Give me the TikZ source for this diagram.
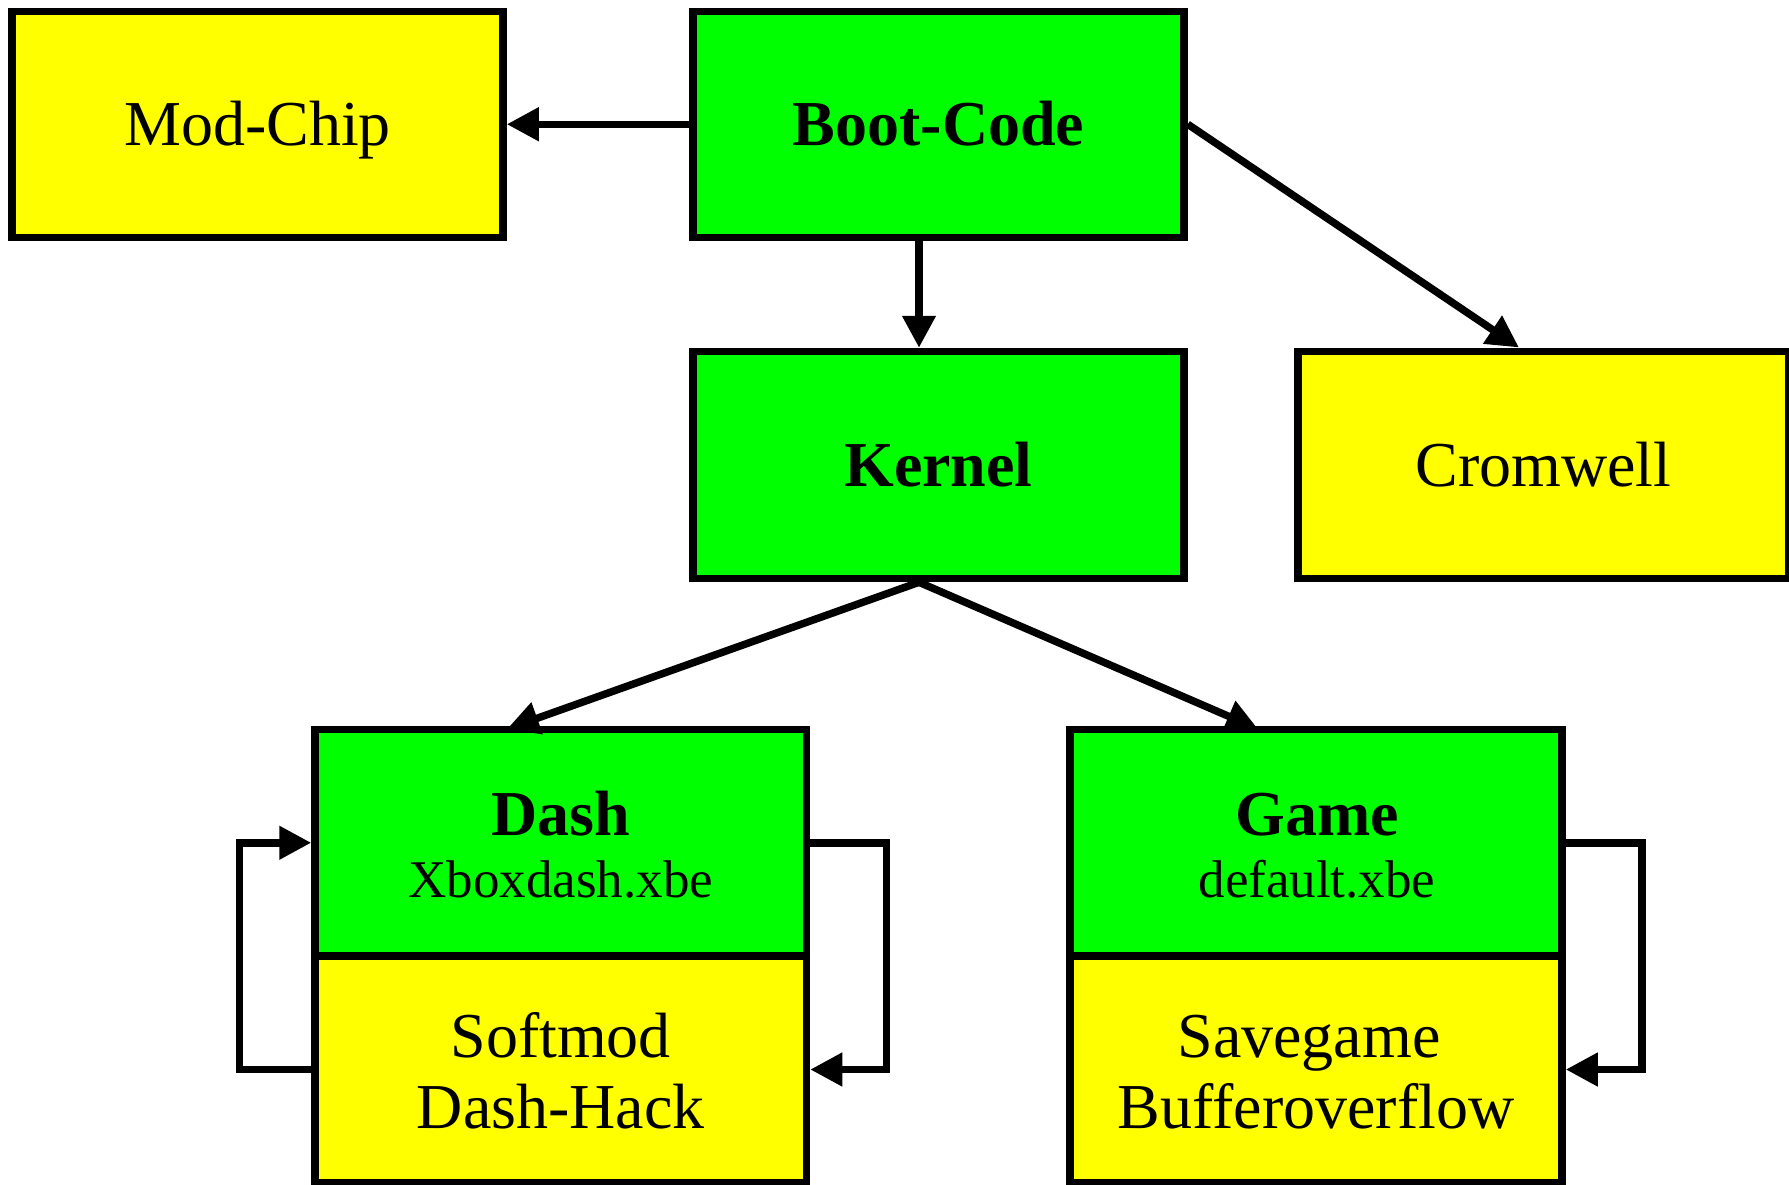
\documentclass[tikz,border=0pt]{standalone}
\usepackage{fontspec}
\setmainfont{Liberation Serif}
\usetikzlibrary{arrows.meta}
\definecolor{boxyellow}{RGB}{255,255,0}
\definecolor{boxgreen}{RGB}{0,255,0}
\tikzset{
  box/.style={draw=black, line width=7.5pt, rectangle, minimum width=491pt, minimum height=226pt, inner sep=0pt},
  ybox/.style={box, fill=boxyellow},
  gbox/.style={box, fill=boxgreen},
  txt/.style={anchor=base, inner sep=0pt, font=\fontsize{64}{70}\selectfont},
  btxt/.style={txt, font=\fontsize{64}{70}\selectfont\bfseries},
  stxt/.style={txt, font=\fontsize{53}{60}\selectfont},
  conn/.style={line width=7.5pt, -{Triangle[length=32pt,width=32pt]}},
}
\begin{document}
\begin{tikzpicture}[x=1pt,y=-1pt]
\useasboundingbox (0,0) rectangle (1789,1184);
% boxes
\node[ybox] (modchip) at (257.5,124.25) {};
\node[gbox] (boot) at (938.5,124.25) {};
\node[gbox, minimum height=227pt] (kernel) at (938.5,465) {};
\node[ybox, minimum height=227pt] (crom) at (1543.5,465) {};
\node[gbox, minimum height=226.5pt, minimum width=491.5pt] (dashtop) at (560.75,842.75) {};
\node[ybox, minimum height=227pt, minimum width=491.5pt] (dashbot) at (560.75,1069.5) {};
\node[gbox, minimum height=226.5pt, minimum width=492pt] (gametop) at (1316,842.75) {};
\node[ybox, minimum height=227pt, minimum width=492pt] (gamebot) at (1316,1069.5) {};
% texts
\node[txt] (tmod) at (257.5,145) {Mod-Chip};
\node[btxt] (tboot) at (938.5,145) {Boot-Code};
\node[btxt] (tkern) at (938.5,486) {Kernel};
\node[txt] (tcrom) at (1543.5,486) {Cromwell};
\node[btxt] (tdash) at (560.75,835) {Dash};
\node[stxt] (tdashf) at (560.75,897) {Xboxdash.xbe};
\node[txt] (tsoft) at (560.75,1057) {Softmod};
\node[txt] (tdhack) at (560.75,1128) {Dash-Hack};
\node[btxt] (tgame) at (1317,835) {Game};
\node[stxt] (tgamef) at (1317,897) {default.xbe};
\node[txt] (tsave) at (1309,1057) {Savegame};
\node[txt] (tbuf) at (1316,1128) {Bufferoverflow};
% connector points
\coordinate (bk1) at (boot.south -| 919,0);
\coordinate (bk2) at (kernel.north -| 919,0);
\coordinate (ks) at (kernel.south -| 919,0);
\coordinate (cromin) at (1519,347.5);
\coordinate (dashin) at (507,729);
\coordinate (gamein) at (1258,729);
% connectors
\draw[conn] (boot.west) -- (modchip.east);
\draw[conn] (bk1) -- (bk2);
\draw[conn] (boot.east) -- (cromin);
\draw[conn] (ks) -- (dashin);
\draw[conn] (ks) -- (gamein);
\draw[conn] (dashbot.west) -- ++(-72,0) |- (dashtop.west);
\draw[conn] (dashtop.east) -- ++(76,0) |- (dashbot.east);
\draw[conn] (gametop.east) -- ++(76,0) |- (gamebot.east);
\end{tikzpicture}
\end{document}
